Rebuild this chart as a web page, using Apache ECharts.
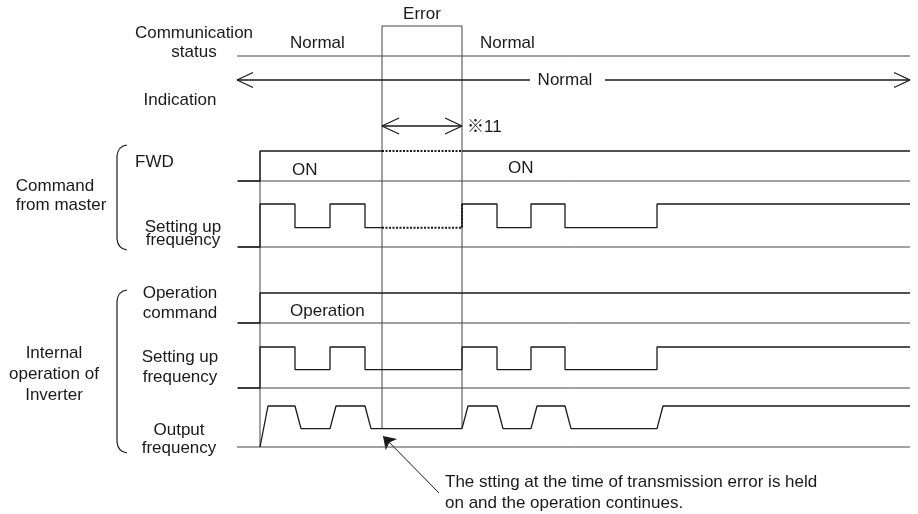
<!DOCTYPE html>
<html>
<head>
<meta charset="utf-8">
<script src="https://cdn.jsdelivr.net/npm/echarts@6/dist/echarts.min.js"></script>
<style>
  html, body { margin: 0; padding: 0; background: #fff; }
  #chart { width: 918px; height: 514px; }
</style>
</head>
<body>
<div id="chart"></div>
<script>
// ---- data: times (x units) and signal levels (0 = stop, 0.45 = low, 1 = high)
const tStart = 237;
const tEnd = 910;
const tRun = 260;                 // FWD ON / operation start
const errorSpan = [382, 462];     // communication error
const setEdges = [260, 295, 330, 365, 462, 497, 531, 565, 657];
const setLevels = [1, 0.45, 1, 0.45, 1, 0.45, 1, 0.45, 1];
const firstRamp = 8;              // output accel from stop
const ramp = 6;                   // output accel/decel between levels

// ---- layout (px)
const rows = {
  fwd:   { base: 181, high: 151 },
  setM:  { base: 247, high: 204 },
  opCmd: { base: 323, high: 293 },
  setI:  { base: 388, high: 347 },
  out:   { base: 447, high: 406 }
};
const statusY = 56, errorTop = 26, indY = 80, noteY = 126;
const FONT = '17px "Liberation Sans", Arial, "Noto Sans CJK JP", sans-serif';
const INK = '#1a1a1a';

const yOf = (row, lvl) => row.base - lvl * (row.base - row.high);

function stepPts(row, edges, levels) {
  const pts = [[tStart, yOf(row, 0)]];
  let prev = 0;
  edges.forEach((t, i) => {
    pts.push([t, yOf(row, prev)], [t, yOf(row, levels[i])]);
    prev = levels[i];
  });
  pts.push([tEnd, yOf(row, prev)]);
  return pts;
}

function rampPts(row, edges, levels) {
  const pts = [[tStart, yOf(row, 0)]];
  let prev = 0;
  edges.forEach((t, i) => {
    const w = i === 0 ? firstRamp : ramp;
    pts.push([t, yOf(row, prev)], [t + w, yOf(row, levels[i])]);
    prev = levels[i];
  });
  pts.push([tEnd, yOf(row, prev)]);
  return pts;
}

// keep the part of a polyline between a and b (verticals when a <= x < b)
function clipX(pts, a, b) {
  const out = [];
  for (let i = 0; i < pts.length - 1; i++) {
    const [x1, y1] = pts[i], [x2, y2] = pts[i + 1];
    if (x1 === x2) {
      if (x1 >= a && x1 < b) out.push([x1, y1], [x2, y2]);
      continue;
    }
    const lo = Math.max(a, x1), hi = Math.min(b, x2);
    if (lo > hi) continue;
    const f = x => y1 + (y2 - y1) * (x - x1) / (x2 - x1);
    out.push([lo, f(lo)], [hi, f(hi)]);
  }
  return out;
}

function line(data, extra) {
  return Object.assign({
    type: 'line', data: data, symbol: 'none', silent: true,
    lineStyle: { color: INK, width: 1.3 }
  }, extra || {});
}
const dotted = { lineStyle: { color: INK, width: 2, type: [2, 1.5] } };
const thin = { lineStyle: { color: '#444', width: 1 } };

const series = [];

// baselines
Object.values(rows).forEach(r => series.push(line([[tStart, r.base], [tEnd, r.base]], thin)));
series.push(line([[tStart, statusY], [tEnd, statusY]], thin));

// communication error box + time markers
series.push(line([[errorSpan[0], yOf(rows.out, 0.45)], [errorSpan[0], errorTop],
  [errorSpan[1], errorTop], [errorSpan[1], yOf(rows.out, 0.45)]], thin));
series.push(line([[tRun, rows.fwd.high], [tRun, rows.out.base]], thin));

// indication arrow
series.push(line([[tStart, indY], [530, indY]]));
series.push(line([[605, indY], [tEnd, indY]]));
series.push(line([[tStart + 16, indY - 7.5], [tStart, indY], [tStart + 16, indY + 7.5]]));
series.push(line([[tEnd - 16, indY - 7.5], [tEnd, indY], [tEnd - 16, indY + 7.5]]));

// ※11 span arrow
series.push(line([[errorSpan[0], noteY], [errorSpan[1], noteY]]));
series.push(line([[errorSpan[0] + 17, noteY - 8], [errorSpan[0], noteY], [errorSpan[0] + 17, noteY + 8]]));
series.push(line([[errorSpan[1] - 17, noteY - 8], [errorSpan[1], noteY], [errorSpan[1] - 17, noteY + 8]]));

// FWD (held during error)
const fwdPts = stepPts(rows.fwd, [tRun], [1]);
series.push(line(clipX(fwdPts, tStart + 1, errorSpan[0])));
series.push(line(clipX(fwdPts, errorSpan[0], errorSpan[1]), dotted));
series.push(line(clipX(fwdPts, errorSpan[1], tEnd)));

// setting up frequency from master (lost during error)
const setMPts = stepPts(rows.setM, setEdges, setLevels);
series.push(line(clipX(setMPts, tStart + 1, errorSpan[0])));
series.push(line(clipX(setMPts, errorSpan[0], errorSpan[1]), dotted));
series.push(line(clipX(setMPts, errorSpan[1], tEnd)));

// internal: operation command, setting frequency, output frequency
series.push(line(clipX(stepPts(rows.opCmd, [tRun], [1]), tStart + 1, tEnd)));
series.push(line(clipX(stepPts(rows.setI, setEdges, setLevels), tStart + 1, tEnd)));
series.push(line(rampPts(rows.out, setEdges, setLevels).slice(1)));

// annotation arrow
series.push({
  type: 'lines', coordinateSystem: 'cartesian2d', silent: true,
  symbol: ['none', 'arrow'], symbolSize: [7, 12],
  lineStyle: { color: INK, width: 1, opacity: 1 },
  data: [{ coords: [[439, 493], [383, 436]] }]
});

function txt(text, x, y, align) {
  return {
    type: 'text', silent: true,
    style: { text: text, x: x, y: y, font: FONT, fill: INK,
      textAlign: align || 'center', textVerticalAlign: 'middle' }
  };
}
function bracket(x, top, bottom) {
  const s = { stroke: INK, lineWidth: 1.2, fill: null };
  return [
    { type: 'bezierCurve', silent: true, style: s,
      shape: { x1: x + 10, y1: top, x2: x, y2: top + 11, cpx1: x + 1, cpy1: top + 1 } },
    { type: 'line', silent: true, style: s,
      shape: { x1: x, y1: top + 11, x2: x, y2: bottom - 11 } },
    { type: 'bezierCurve', silent: true, style: s,
      shape: { x1: x, y1: bottom - 11, x2: x + 10, y2: bottom, cpx1: x + 1, cpy1: bottom - 1 } }
  ];
}

const graphics = [
  txt('Error', 422, 14),
  txt('Communication', 194, 33),
  txt('status', 194, 52),
  txt('Normal', 290, 43, 'left'),
  txt('Normal', 480, 43, 'left'),
  txt('Normal', 565, 80),
  txt('Indication', 180, 100),
  txt('※11', 467, 127, 'left'),
  txt('FWD', 135, 162, 'left'),
  txt('ON', 292, 170, 'left'),
  txt('ON', 508, 168, 'left'),
  txt('Command', 55, 186),
  txt('from master', 61, 205),
  txt('Setting up', 183, 227),
  txt('frequency', 183, 240),
  txt('Operation', 180, 293),
  txt('command', 180, 313),
  txt('Operation', 290, 311, 'left'),
  txt('Internal', 54, 353),
  txt('operation of', 54, 374),
  txt('Inverter', 54, 395),
  txt('Setting up', 180, 357),
  txt('frequency', 180, 377),
  txt('Output', 179, 430),
  txt('frequency', 179, 448),
  txt('The stting at the time of transmission error is held', 445, 482, 'left'),
  txt('on and the operation continues.', 445, 503, 'left')
].concat(bracket(117, 145, 250), bracket(117, 290, 453));

const chart = echarts.init(document.getElementById('chart'));
chart.setOption({
  animation: false,
  backgroundColor: '#fff',
  grid: { left: 0, right: 0, top: 0, bottom: 0 },
  xAxis: { type: 'value', min: 0, max: 918, show: false },
  yAxis: { type: 'value', min: 0, max: 514, inverse: true, show: false },
  series: series,
  graphic: graphics
});
</script>
</body>
</html>
